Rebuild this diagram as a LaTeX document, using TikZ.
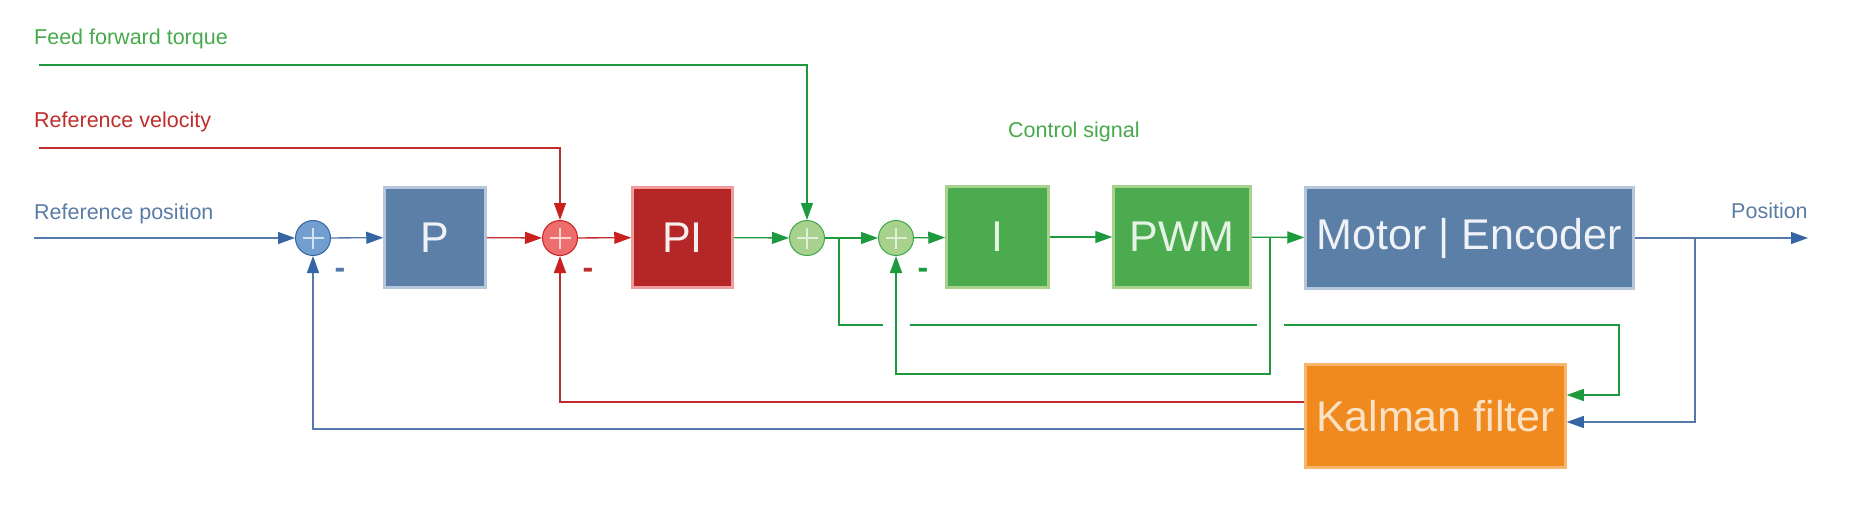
\documentclass[tikz,border=0pt]{standalone}
\usepackage{fontspec}
\setmainfont{Liberation Sans}
\usetikzlibrary{arrows.meta}

\definecolor{boxblue}{HTML}{5B7FA6}
\definecolor{boxblueb}{HTML}{B4C7DC}
\definecolor{sumblue}{HTML}{729FCF}
\definecolor{sumblueb}{HTML}{3465A4}
\definecolor{lineblue}{HTML}{5479AA}
\definecolor{textblue}{HTML}{5A7CA6}
\definecolor{boxred}{HTML}{B52626}
\definecolor{boxredb}{HTML}{F19C9C}
\definecolor{sumred}{HTML}{EE6E6E}
\definecolor{sumredb}{HTML}{C9211E}
\definecolor{linered}{HTML}{BE2D2B}
\definecolor{boxgreen}{HTML}{4CAB4E}
\definecolor{boxgreenb}{HTML}{A9D18E}
\definecolor{sumgreen}{HTML}{A9D18E}
\definecolor{sumgreenb}{HTML}{3BA94B}
\definecolor{linegreen}{HTML}{1E9A3E}
\definecolor{textgreen}{HTML}{46AA4A}
\definecolor{boxorange}{HTML}{F08A1F}
\definecolor{boxorangeb}{HTML}{F8B56E}

\begin{document}
\begin{tikzpicture}[x=1pt, y=-1pt,
  block/.style={draw, line width=2.5pt, inner sep=0pt, font=\fontsize{43}{48}\selectfont},
  sumnode/.style={circle, draw, line width=1pt, minimum size=35pt, inner sep=0pt,
    path picture={\draw[#1, line width=1.8pt] (path picture bounding box.center) +(-10.5,0) -- +(10.5,0)
      (path picture bounding box.center) +(0,-10.5) -- +(0,10.5);}},
  lab/.style={inner sep=0pt, anchor=west, font=\fontsize{21.5}{26}\selectfont},
  minus/.style={inner sep=0pt, font=\bfseries\fontsize{32}{32}\selectfont},
  bline/.style={lineblue, line width=1.3pt, >={Triangle[length=17pt, width=12pt, color=sumblueb]}},
  rline/.style={linered, line width=1.3pt, >={Triangle[length=17pt, width=12pt, color=sumredb]}},
  gline/.style={linegreen, line width=1.3pt, >={Triangle[length=17pt, width=12pt, color=linegreen]}}]
  \useasboundingbox (0,0) rectangle (1849,528);

  % labels
  \node[lab, text=textgreen] (labFF) at (34,39) {Feed forward torque};
  \node[lab, text=linered] (labV) at (34,122) {Reference velocity};
  \node[lab, text=textblue] (labP) at (34,214) {Reference position};
  \node[lab, text=textgreen] (labC) at (1008,132) {Control signal};
  \node[lab, text=textblue] (labPos) at (1731,211) {Position};

  % blocks and sums
  \node[sumnode=sumblue!30, fill=sumblue, draw=sumblueb] (sumP) at (313,238) {};
  \node[block, fill=boxblue, draw=boxblueb, text=white!90!boxblue, minimum width=101pt, minimum height=100pt] (P) at (435,237.5) {P};
  \node[sumnode=sumred!30, fill=sumred, draw=sumredb] (sumV) at (560,238) {};
  \node[block, fill=boxred, draw=boxredb, text=white!92!boxred, minimum width=100pt, minimum height=100pt] (PI) at (682.5,237.5) {PI};
  \node[sumnode=sumgreen!35, fill=sumgreen, draw=sumgreenb] (sumT) at (807,238) {};
  \node[sumnode=sumgreen!35, fill=sumgreen, draw=sumgreenb] (sumI) at (896,238) {};
  \node[block, fill=boxgreen, draw=boxgreenb, text=white!85!boxgreen, minimum width=102pt, minimum height=101pt] (I) at (997.5,237) {I};
  \node[block, fill=boxgreen, draw=boxgreenb, text=white!85!boxgreen, minimum width=137pt, minimum height=101pt] (PWM) at (1182,237) {PWM};
  \node[block, fill=boxblue, draw=boxblueb, text=white!90!boxblue, minimum width=328pt, minimum height=101pt] (motor) at (1469.5,238) {Motor | Encoder};
  \node[block, fill=boxorange, draw=boxorangeb, text=white!75!boxorange, minimum width=260pt, minimum height=103pt] (kalman) at (1435.5,416) {Kalman filter};

  \node[minus, text=lineblue] (mP) at (340,273) {-};
  \node[minus, text=linered] (mV) at (588,273) {-};
  \node[minus, text=linegreen] (mI) at (923,273) {-};

  \coordinate (ffin) at (39,65);
  \coordinate (vin) at (39,148);
  \coordinate (pin) at (34,238);
  \coordinate (posout) at (1808,238);
  \coordinate (brT) at (839,238);
  \coordinate (brPWM) at (1270,238);
  \coordinate (brPos) at (1695,238);
  \coordinate (kcorner) at (1619,325);

  % forward path
  \draw[gline, ->] (ffin) -| (sumT);
  \draw[rline, ->] (vin) -| (sumV);
  \draw[bline, ->] (pin) -- (sumP);
  \draw[bline, ->] (sumP) -- (P);
  \draw[rline, ->] (P) -- (sumV);
  \draw[rline, ->] (sumV) -- (PI);
  \draw[gline, ->] (PI) -- (sumT);
  \draw[gline, ->] (sumT) -- (sumI);
  \draw[gline, ->] (sumI) -- (I);
  \draw[gline, ->] (I) -- (PWM);
  \draw[gline, ->] (PWM) -- (motor);
  \draw[bline, ->] (motor) -- (posout);

  % feedback
  \draw[gline, ->] (brT) |- (kcorner) |- ([yshift=21pt]kalman.east);
  \foreach \c in {sumI, brPWM}
    \fill[white] (\c |- kcorner) ++(-13.5,-3) rectangle ++(27,6);
  \draw[gline, ->] (brPWM) -- (brPWM |- 0,374) -| (sumI);
  \draw[bline, ->] (brPos) |- ([yshift=-6pt]kalman.east);
  \draw[rline, ->] ([yshift=14pt]kalman.west) -| (sumV);
  \draw[bline, ->] ([yshift=-13pt]kalman.west) -| (sumP);
\end{tikzpicture}
\end{document}
